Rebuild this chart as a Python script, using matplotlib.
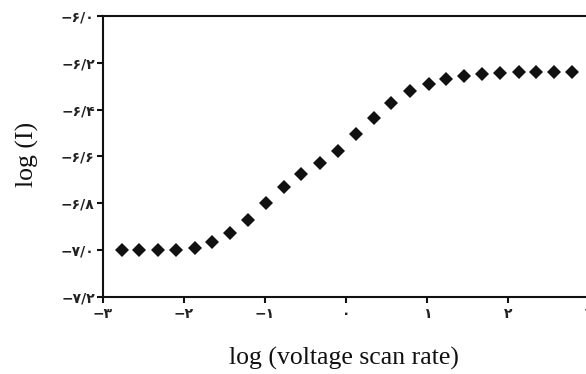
import matplotlib
matplotlib.use("Agg")
import matplotlib.pyplot as plt

# data
log_rate = [-2.77, -2.55, -2.32, -2.10, -1.87, -1.65, -1.43, -1.21, -0.99, -0.77,
            -0.55, -0.32, -0.10, 0.12, 0.35, 0.56, 0.79, 1.02, 1.24, 1.46,
            1.68, 1.90, 2.13, 2.35, 2.57, 2.79]
log_i = [-7.00, -7.00, -7.00, -7.00, -6.99, -6.966, -6.928, -6.870, -6.798, -6.729,
         -6.676, -6.629, -6.575, -6.504, -6.434, -6.370, -6.323, -6.290, -6.270, -6.256,
         -6.248, -6.245, -6.242, -6.242, -6.242, -6.242]

x_ticks = [-3, -2, -1, 0, 1, 2, 3]
x_ticklabels = ["\u2212\u06f3", "\u2212\u06f2", "\u2212\u06f1", "\u06f0", "\u06f1", "\u06f2", "\u06f3"]
y_ticks = [-6.0, -6.2, -6.4, -6.6, -6.8, -7.0, -7.2]
y_ticklabels = ["\u2212\u06f6/\u06f0", "\u2212\u06f6/\u06f2", "\u2212\u06f6/\u06f4", "\u2212\u06f6/\u06f6",
                "\u2212\u06f6/\u06f8", "\u2212\u06f7/\u06f0", "\u2212\u06f7/\u06f2"]

fig = plt.figure(figsize=(5.86, 3.74), dpi=100)
ax = fig.add_axes([103/586, 1 - 297.3/374, 486/586, (297.3 - 15.7)/374])
ax.plot(log_rate, log_i, linestyle="none", marker="D", markersize=7,
        color="#111111", markeredgewidth=0, clip_on=False)

ax.set_xlim(-3, 3)
ax.set_ylim(-7.2, -6.0)
ax.set_xticks(x_ticks)
ax.set_xticklabels(x_ticklabels, fontfamily="DejaVu Sans", fontsize=10, fontweight="bold")
ax.set_yticks(y_ticks)
ax.set_yticklabels(y_ticklabels, fontfamily="DejaVu Sans", fontsize=10, fontweight="bold")

for s in ["left", "bottom", "top"]:
    ax.spines[s].set_linewidth(1.5)
    ax.spines[s].set_color("#111111")
ax.spines["right"].set_visible(False)
ax.tick_params(axis="both", direction="out", length=4, width=1.5, color="#111111",
               labelcolor="#222222")
ax.tick_params(axis="y", pad=2)
ax.tick_params(axis="x", pad=3)

fig.text(343.5/586, 1 - 358/374, "log (voltage scan rate)", fontfamily="Liberation Serif",
         fontsize=18.5, color="#111111", ha="center", va="center")
fig.text(27/586, 1 - 154/374, "log (I)", fontfamily="Liberation Serif",
         fontsize=18.5, color="#111111", ha="center", va="center", rotation=90)

fig.savefig("out.png", dpi=100)
